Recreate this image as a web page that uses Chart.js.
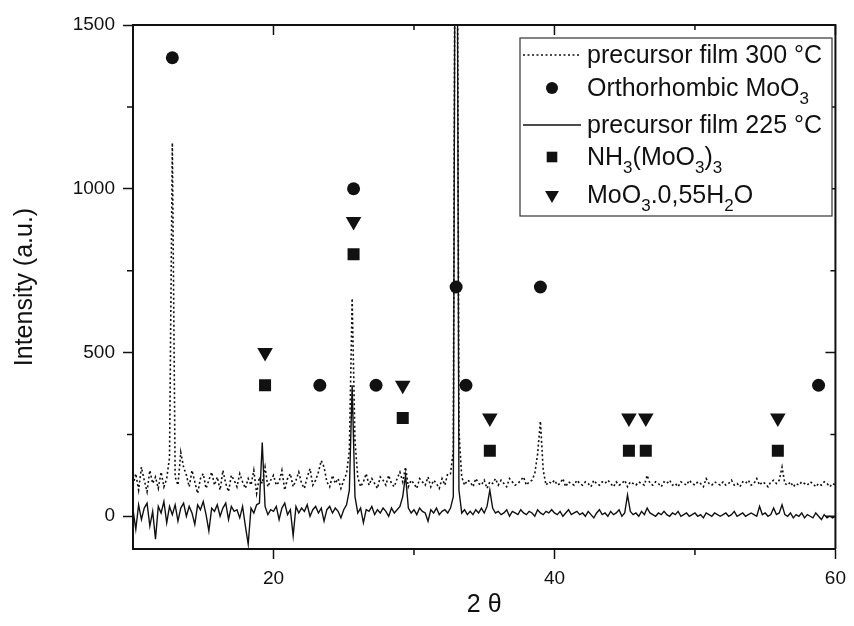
<!DOCTYPE html>
<html>
<head>
<meta charset="utf-8">
<script src="https://cdn.jsdelivr.net/npm/chart.js@4.4.1/dist/chart.umd.min.js"></script>
<style>
  body { margin: 0; background: #fff; }
  canvas { display: block; }
</style>
</head>
<body>
<canvas id="xrd" width="854" height="626"></canvas>
<script>
// 2 theta grid of the scans (degrees), one count every 0.2 deg
var angleStart = 10;
var angleStep = 0.2;

// precursor film 300 °C, counts from 10.0 to 60.0
var film300 = [
	95, 130, 80, 150, 110, 75, 140, 100, 120, 85,
	135, 90, 115, 180, 1140, 120, 95, 195, 150, 125,
	90, 140, 105, 70, 115, 130, 85, 110, 135, 95,
	120, 80, 140, 100, 75, 125, 110, 90, 130, 105,
	85, 115, 95, 140, 70, 120, 100, 150, 90, 110,
	125, 95, 105, 140, 80, 115, 130, 90, 110, 135,
	100, 85, 120, 145, 95, 110, 135, 170, 150, 105,
	90, 125, 100, 115, 85, 110, 130, 200, 665, 230,
	120, 90, 105, 130, 95, 115, 100, 85, 120, 110,
	95, 125, 100, 90, 115, 135, 105, 150, 90, 110,
	100, 85, 115, 105, 95, 120, 90, 110, 100, 85,
	115, 95, 130, 130, 200, 3000, 260, 120, 95, 110,
	105, 90, 115, 100, 95, 110, 85, 105, 100, 115,
	95, 110, 100, 90, 115, 105, 95, 100, 110, 120,
	95, 105, 110, 130, 190, 290, 140, 95, 105, 100,
	110, 95, 100, 115, 90, 105, 100, 95, 110, 100,
	95, 105, 100, 90, 110, 100, 95, 105, 100, 110,
	100, 90, 105, 95, 100, 110, 90, 105, 100, 95,
	105, 100, 95, 125, 100, 95, 105, 100, 90, 105,
	100, 110, 95, 100, 90, 105, 100, 95, 110, 100,
	95, 105, 100, 90, 115, 100, 95, 105, 100, 95,
	105, 95, 100, 110, 95, 100, 90, 105, 100, 110,
	95, 100, 115, 95, 105, 100, 90, 105, 110, 100,
	110, 150, 100, 95, 105, 90, 100, 95, 105, 100,
	95, 105, 100, 90, 100, 95, 105, 100, 90, 100,
	95
];

// precursor film 225 °C, counts from 10.0 to 60.0
var film225 = [
	20, -40, 35, -10, 25, 40, -30, 15, -70, 30,
	10, 45, -20, 30, 5, 35, -15, 25, 40, 0,
	30, 10, -25, 35, 20, 45, 5, -45, 25, 15,
	35, 0, 25, 40, -10, 30, 15, 20, -5, 30,
	-30, -85, 25, 10, 35, 40, 225, 30, 5, 20,
	15, 30, -10, 25, 40, 5, 20, -60, 30, 10,
	25, 15, 35, 0, 20, 30, 10, 25, -15, 20,
	30, 10, 25, 15, -5, 20, 35, 80, 400, 60,
	10, 25, -20, 20, 15, 30, 5, 20, 10, 25,
	15, 0, 25, 10, 20, 30, 60, 125, 25, 10,
	20, 5, 25, 15, 10, -15, 20, 10, 25, 5,
	15, 20, 10, 25, 60, 3000, 80, 10, 20, 5,
	15, 5, 20, 10, 25, 10, 30, 80, 25, 10,
	15, 5, 10, 20, 0, 15, 10, 5, 20, 10,
	5, 15, 10, 0, 20, 10, 5, 15, 10, 20,
	10, 5, 15, 0, 10, 20, 5, 10, 15, 5,
	10, 0, 15, 5, -5, 10, 20, 5, 10, 0,
	15, 5, 10, 20, 0, 10, 65, 15, 5, 10,
	0, 15, 5, 25, 10, 5, 0, 10, 5, 15,
	5, 0, 10, 5, 15, 0, 5, 10, 0, 5,
	10, 0, 5, -5, 10, 5, 0, 10, 5, 0,
	5, 10, 0, 5, 15, 0, 5, 10, 0, 5,
	10, 5, 0, 30, 5, 10, 0, 5, 25, 5,
	10, 35, 5, 0, 10, -5, 5, 0, 10, -5,
	5, 0, -5, 10, 0, -10, 5, -5, 0, -5,
	0
];

// phase markers: position and the height they are placed at
var orthoAngle = [12.8, 23.3, 25.7, 27.3, 33.0, 33.7, 39.0, 58.8];
var orthoLevel = [1400, 400, 1000, 400, 700, 400, 700, 400];
var nh3Angle = [19.4, 25.7, 29.2, 35.4, 45.3, 46.5, 55.9];
var nh3Level = [400, 800, 300, 200, 200, 200, 200];
var hydrateAngle = [19.4, 25.7, 29.2, 35.4, 45.3, 46.5, 55.9];
var hydrateLevel = [500, 900, 400, 300, 300, 300, 300];

// axes
var xMajorTicks = [20, 40, 60];
var xMinorTicks = [30, 50];
var yMajorTicks = [0, 500, 1000, 1500];
var yMinorTicks = [250, 750, 1250];

function scan(counts) {
	return counts.map(function (c, i) {
		return { x: angleStart + i * angleStep, y: c };
	});
}
function marks(angles, levels) {
	return angles.map(function (a, i) { return { x: a, y: levels[i] }; });
}
function plain(v) { return String(v); }

var ink = '#111';
var FONT = '"Liberation Sans", Arial, sans-serif';
Chart.defaults.font.family = FONT;
Chart.defaults.color = ink;

// legend with subscripts, drawn in the plot corner like the original
var legendRows = [
	{ sym: 'dotted', parts: [['precursor film 300 °C']] },
	{ sym: 'circle', parts: [['Orthorhombic MoO'], ['3', 1]] },
	{ sym: 'solid', parts: [['precursor film 225 °C']] },
	{ sym: 'rect', parts: [['NH'], ['3', 1], ['(MoO'], ['3', 1], [')'], ['3', 1]] },
	{ sym: 'triangle', parts: [['MoO'], ['3', 1], ['.0,55H'], ['2', 1], ['O']] }
];
var legendRowY = [55, 88, 125, 157, 195];

var frame = {
	id: 'frame',
	afterDraw: function (chart) {
		var ctx = chart.ctx, a = chart.chartArea;
		var x = chart.scales.x, y = chart.scales.y;
		ctx.save();
		ctx.strokeStyle = ink;
		ctx.lineWidth = 2;
		ctx.beginPath();
		ctx.moveTo(a.left, a.top);
		ctx.lineTo(a.right, a.top);
		ctx.lineTo(a.right, a.bottom);
		ctx.stroke();

		ctx.lineWidth = 1.5;
		ctx.beginPath();
		xMinorTicks.forEach(function (v) {
			var px = x.getPixelForValue(v);
			ctx.moveTo(px, a.bottom); ctx.lineTo(px, a.bottom + 6);
			ctx.moveTo(px, a.top); ctx.lineTo(px, a.top + 5);
		});
		xMajorTicks.forEach(function (v) {
			var px = x.getPixelForValue(v);
			ctx.moveTo(px, a.top); ctx.lineTo(px, a.top + 10);
		});
		yMinorTicks.forEach(function (v) {
			var py = y.getPixelForValue(v);
			ctx.moveTo(a.left, py); ctx.lineTo(a.left - 6, py);
			ctx.moveTo(a.right, py); ctx.lineTo(a.right - 5, py);
		});
		yMajorTicks.forEach(function (v) {
			var py = y.getPixelForValue(v);
			ctx.moveTo(a.right, py); ctx.lineTo(a.right - 10, py);
		});
		ctx.stroke();

		// legend box
		var bx = 520, by = 38, bw = 312, bh = 178;
		ctx.fillStyle = '#fff';
		ctx.fillRect(bx, by, bw, bh);
		ctx.lineWidth = 1.2;
		ctx.strokeStyle = '#333';
		ctx.strokeRect(bx, by, bw, bh);

		legendRows.forEach(function (row, i) {
			var cy = legendRowY[i];
			ctx.strokeStyle = ink;
			ctx.fillStyle = ink;
			if (row.sym === 'dotted' || row.sym === 'solid') {
				ctx.lineWidth = 1.5;
				ctx.setLineDash(row.sym === 'dotted' ? [2, 2.5] : []);
				ctx.beginPath();
				ctx.moveTo(523, cy); ctx.lineTo(581, cy);
				ctx.stroke();
				ctx.setLineDash([]);
			} else {
				var opts = { circle: { pointStyle: 'circle', radius: 6, rotation: 0 },
					rect: { pointStyle: 'rect', radius: 7.5, rotation: 0 },
					triangle: { pointStyle: 'triangle', radius: 8, rotation: 180 } }[row.sym];
				opts.borderWidth = 0;
				Chart.helpers.drawPoint(ctx, opts, 552, cy);
			}
			var tx = 587, base = cy + 8;
			ctx.textBaseline = 'alphabetic';
			ctx.textAlign = 'left';
			row.parts.forEach(function (p) {
				if (p[1]) {
					ctx.font = '17px ' + FONT;
					ctx.fillText(p[0], tx, base + 8);
				} else {
					ctx.font = '25px ' + FONT;
					ctx.fillText(p[0], tx, base);
				}
				tx += ctx.measureText(p[0]).width;
			});
		});
		ctx.restore();
	}
};

var ctx = document.getElementById('xrd').getContext('2d');
var chart = new Chart(ctx, {
	type: 'scatter',
	data: {
		datasets: [{
			label: 'Orthorhombic MoO3',
			data: marks(orthoAngle, orthoLevel),
			pointStyle: 'circle',
			pointRadius: 6.5,
			backgroundColor: ink,
			borderWidth: 0,
			order: 0
		}, {
			label: 'NH3(MoO3)3',
			data: marks(nh3Angle, nh3Level),
			pointStyle: 'rect',
			pointRadius: 8.5,
			backgroundColor: ink,
			borderWidth: 0,
			order: 0
		}, {
			label: 'MoO3.0,55H2O',
			data: marks(hydrateAngle, hydrateLevel),
			pointStyle: 'triangle',
			pointRotation: 180,
			pointRadius: 9,
			backgroundColor: ink,
			borderWidth: 0,
			order: 0
		}, {
			label: 'precursor film 300 °C',
			type: 'line',
			data: scan(film300),
			borderColor: ink,
			borderWidth: 1.6,
			borderDash: [2, 2.5],
			pointRadius: 0,
			tension: 0,
			order: 1
		}, {
			label: 'precursor film 225 °C',
			type: 'line',
			data: scan(film225),
			borderColor: ink,
			borderWidth: 1.4,
			pointRadius: 0,
			tension: 0,
			order: 1
		}]
	},
	options: {
		responsive: false,
		animation: false,
		layout: { padding: { top: 25, right: 12, left: 0, bottom: 0 } },
		plugins: { legend: { display: false }, tooltip: { enabled: false } },
		scales: {
			x: {
				type: 'linear',
				min: 10,
				max: 60,
				afterBuildTicks: function (s) { s.ticks = xMajorTicks.map(function (v) { return { value: v }; }); },
				afterFit: function (s) { s.height = 77; },
				ticks: { font: { size: 19 }, color: ink, padding: 8, callback: plain },
				grid: { drawOnChartArea: false, tickLength: 10, tickWidth: 1.5, tickColor: ink },
				border: { display: true, color: ink, width: 2 },
				title: { display: true, text: '2 θ', font: { size: 25 }, color: ink, padding: { top: 0, bottom: 6 } }
			},
			y: {
				min: -100,
				max: 1500,
				afterBuildTicks: function (s) { s.ticks = yMajorTicks.map(function (v) { return { value: v }; }); },
				afterFit: function (s) { s.width = 133; },
				ticks: { font: { size: 19 }, color: ink, padding: 8, callback: plain },
				grid: { drawOnChartArea: false, tickLength: 10, tickWidth: 1.5, tickColor: ink },
				border: { display: true, color: ink, width: 2 },
				title: { display: true, text: 'Intensity (a.u.)', font: { size: 25 }, color: ink, padding: { top: 10, bottom: 0 } }
			}
		}
	},
	plugins: [frame]
});
</script>
</body>
</html>
